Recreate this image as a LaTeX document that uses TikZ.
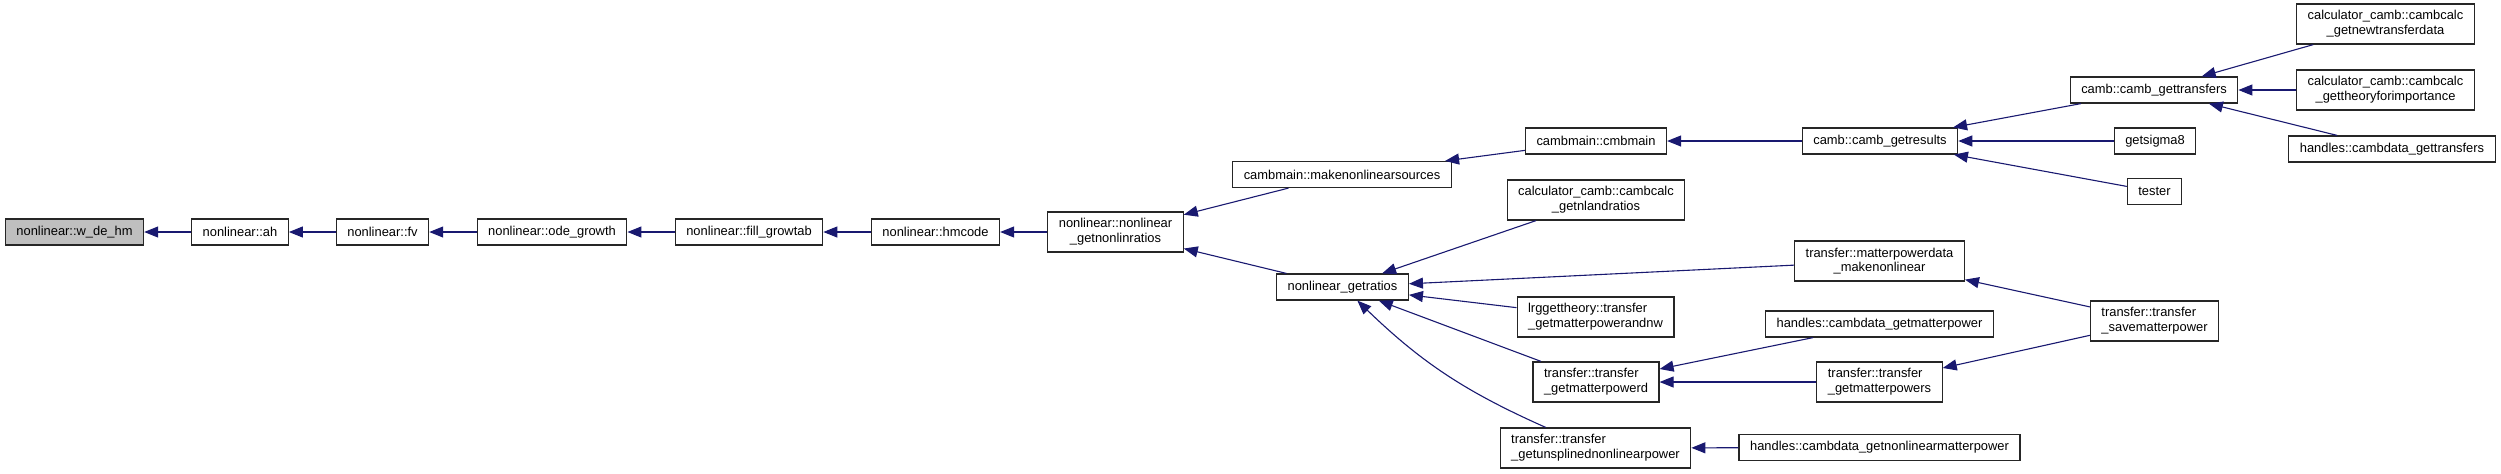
\documentclass[tikz,border=0pt]{standalone}
\usepackage{fontspec}
\setmainfont{Liberation Sans}
\usetikzlibrary{arrows.meta}
\definecolor{calledge}{HTML}{191970}
\definecolor{rootgray}{HTML}{BFBFBF}
\newcommand{\callfont}{\fontsize{6.45pt}{7.35pt}\selectfont}

\begin{document}
\begin{tikzpicture}[x=0.5pt, y=-0.5pt,
  fn/.style={draw=black!85, fill=white, line width=0.6pt, inner xsep=5.5pt, minimum height=13pt, font=\callfont},
  fntwo/.style={fn, minimum height=20pt},
  calls/.style={-{Triangle[length=7pt,width=5.5pt]}, draw=calledge, line width=0.55pt}]
\useasboundingbox (0,0) rectangle (2501,473);

% Nonlinear chain
\node[fn, fill=rootgray] (wdehm) at (74.5,232) {nonlinear::w\_de\_hm};
\node[fn] (ah) at (240,232) {nonlinear::ah};
\node[fn] (fv) at (382.5,232) {nonlinear::fv};
\node[fn] (ode) at (552,232) {nonlinear::ode\_growth};
\node[fn] (fill) at (749,232) {nonlinear::fill\_growtab};
\node[fn] (hmcode) at (935.5,232) {nonlinear::hmcode};
\node[fntwo, align=center] (gnlr) at (1115.5,232) {nonlinear::nonlinear\\\_getnonlinratios};

% Callers of getnonlinratios
\node[fn] (mnls) at (1342,174.5) {cambmain::makenonlinearsources};
\node[fn] (gratios) at (1342.5,287) {nonlinear\_getratios};

% cmbmain side
\node[fn] (cmbmain) at (1596,141) {cambmain::cmbmain};
\node[fn] (getres) at (1880,141) {camb::camb\_getresults};
\node[fn] (gettr) at (2154,90) {camb::camb\_gettransfers};
\node[fn] (sigma8) at (2155,141) {getsigma8};
\node[fn] (tester) at (2154.5,191.5) {tester};
\node[fntwo, align=center] (newtd) at (2385.5,24) {calculator\_camb::cambcalc\\\_getnewtransferdata};
\node[fntwo, align=center] (theory) at (2385.5,90) {calculator\_camb::cambcalc\\\_gettheoryforimportance};
\node[fn] (hgettr) at (2392,149) {handles::cambdata\_gettransfers};

% getratios side
\node[fntwo, align=center] (gnland) at (1596,200) {calculator\_camb::cambcalc\\\_getnlandratios};
\node[fntwo, align=center] (mpdata) at (1879.5,261) {transfer::matterpowerdata\\\_makenonlinear};
\node[fntwo, align=left] (lrg) at (1595.5,317) {lrggettheory::transfer\\\_getmatterpowerandnw};
\node[fn] (hgetmp) at (1879.5,324) {handles::cambdata\_getmatterpower};
\node[fntwo, align=left] (gmpd) at (1596,382) {transfer::transfer\\\_getmatterpowerd};
\node[fntwo, align=left] (gmps) at (1879.5,382) {transfer::transfer\\\_getmatterpowers};
\node[fntwo, align=left] (unspl) at (1595.5,448) {transfer::transfer\\\_getunsplinednonlinearpower};
\node[fn] (hnlmp) at (1879.5,447.5) {handles::cambdata\_getnonlinearmatterpower};
\node[fntwo, align=left] (savemp) at (2154.5,321) {transfer::transfer\\\_savematterpower};

% Calls along the chain
\draw[calls] (ah) to (wdehm);
\draw[calls] (fv) to (ah);
\draw[calls] (ode) to (fv);
\draw[calls] (fill) to (ode);
\draw[calls] (hmcode) to (fill);
\draw[calls] (gnlr) to (hmcode);
\draw[calls] (mnls) to (gnlr);
\draw[calls] (gratios) to (gnlr);

% Calls on the cmbmain side
\draw[calls] (cmbmain) to (mnls);
\draw[calls] (getres) to (cmbmain);
\draw[calls] (gettr) to (getres);
\draw[calls] (sigma8) to (getres);
\draw[calls] (tester) to (getres);
\draw[calls] (newtd) to (gettr);
\draw[calls] (theory) to (gettr);
\draw[calls] (hgettr) to (gettr);

% Calls on the getratios side
\draw[calls] (gnland) to (gratios);
\draw[calls] (mpdata) to (gratios);
\draw[calls] (lrg) to (gratios);
\draw[calls] (gmpd) to (gratios);
\draw[calls] (unspl) to[bend left=10] (gratios);
\draw[calls] (savemp) to (mpdata);
\draw[calls] (savemp) to (gmps);
\draw[calls] (hgetmp) to (gmpd);
\draw[calls] (gmps) to (gmpd);
\draw[calls] (hnlmp) to (unspl);

\end{tikzpicture}
\end{document}
